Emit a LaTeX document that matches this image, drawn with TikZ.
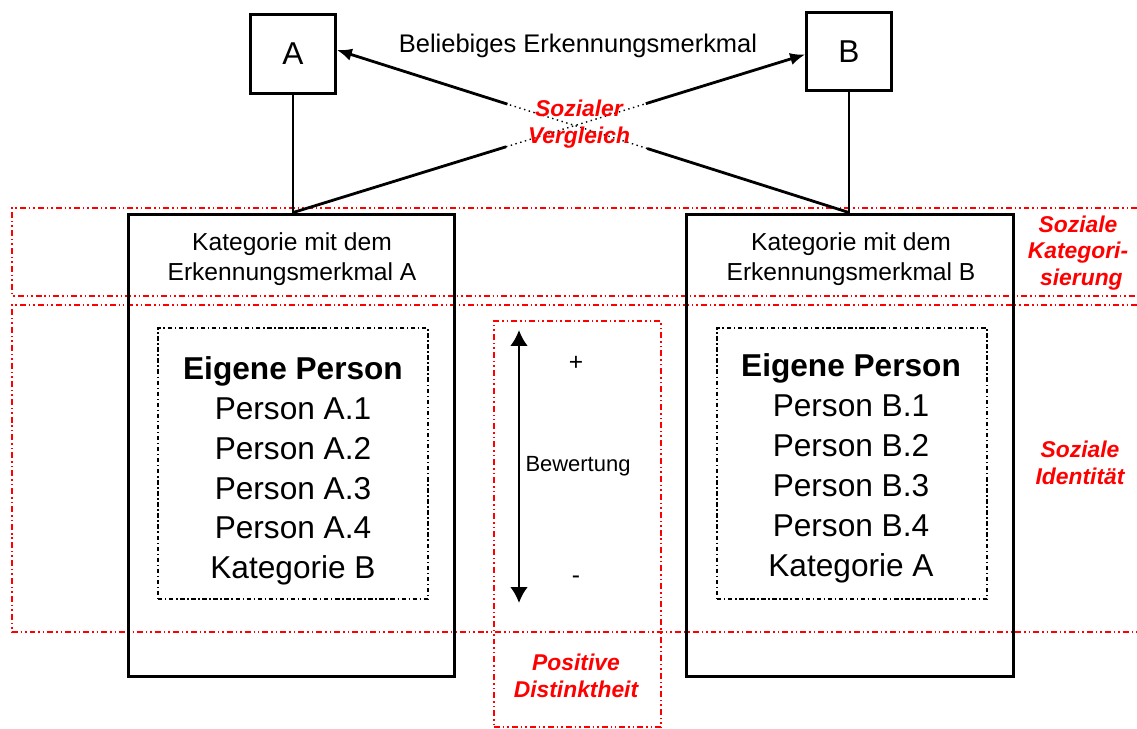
\documentclass[tikz,border=0pt]{standalone}
\usepackage{fontspec}
\setmainfont{Liberation Sans}
\usetikzlibrary{arrows.meta,calc}
\begin{document}
\begin{tikzpicture}[x=0.02cm,y=-0.02cm,
  smallbox/.style={draw,line width=1.6pt,minimum width=1.7cm,minimum height=1.57cm,inner sep=0pt,font=\fontsize{18}{20}\selectfont},
  catbox/.style={draw,line width=1.7pt,minimum width=6.54cm,minimum height=9.26cm,inner sep=0pt},
  innerbox/.style={draw,line width=0.8pt,dash pattern=on 2.5pt off 1.5pt on 0.8pt off 1.5pt,minimum width=5.4cm,minimum height=5.42cm,inner sep=0pt},
  redline/.style={draw=red,line width=1.1pt,dash pattern=on 3.4pt off 1.7pt on 0.85pt off 1.7pt on 0.85pt off 1.7pt},
  redlabel/.style={text=red,font=\fontsize{13}{15.3}\selectfont\bfseries\itshape,align=center,inner sep=0pt},
  cattext/.style={font=\fontsize{14}{17}\selectfont,align=center,inner sep=0pt},
  persontext/.style={font=\fontsize{18}{22.7}\selectfont,align=center,inner sep=0pt},
  thickline/.style={line width=1.6pt},
  tip/.style={-{Latex[length=0.3cm,width=0.25cm]}}
]
\useasboundingbox (0,0) rectangle (1137,729);

% red bands
\draw[redline] (1137,208) -- (12,208) -- (12,296) -- (1137,296);
\draw[redline] (1137,305) -- (12,305) -- (12,632) -- (1137,632);
\node[redline,minimum width=3.34cm,minimum height=8.12cm,inner sep=0pt] (mid) at (577.5,524) {};

% small boxes
\node[smallbox] (A) at (293,54) {A};
\node[smallbox] (B) at (849,51.5) {B};
\node[font=\fontsize{14.5}{17}\selectfont,inner sep=0pt] (merk) at (578,46) {Beliebiges Erkennungsmerkmal};

% category boxes
\node[catbox] (LA) at (291.5,445.5) {};
\node[catbox] (LB) at (850,445.5) {};
\node[cattext] (ka) at (292,259) {Kategorie mit dem\\Erkennungsmerkmal A};
\node[cattext] (kb) at (851,259) {Kategorie mit dem\\Erkennungsmerkmal B};

\node[innerbox] (IA) at (293,463.5) {};
\node[innerbox] (IB) at (852,463.5) {};
\node[persontext] (pa) at (293,471) {\textbf{Eigene Person}\\Person A.1\\Person A.2\\Person A.3\\Person A.4\\Kategorie B};
\node[persontext] (pb) at (851,468.5) {\textbf{Eigene Person}\\Person B.1\\Person B.2\\Person B.3\\Person B.4\\Kategorie A};

% vertical connectors
\coordinate (la) at (A.south |- LA.north);
\coordinate (lb) at (B.south |- LB.north);
\draw[line width=0.6pt] (A.south) -- (la);
\draw[line width=0.6pt] (B.south) -- (lb);

% crossing arrows
\coordinate (bt) at ($(B.west)+(0,3)$);
\coordinate (at) at ($(A.east)+(0,-4)$);
\path (la) -- (bt) coordinate[pos=0.416] (p1) coordinate[pos=0.689] (p2);
\draw[thickline] (la) -- (p1);
\draw[line width=0.8pt,dotted] (p1) -- (p2);
\draw[thickline,tip] (p2) -- (bt);
\path (lb) -- (at) coordinate[pos=0.394] (q1) coordinate[pos=0.667] (q2);
\draw[thickline] (lb) -- (q1);
\draw[line width=0.8pt,dotted] (q1) -- (q2);
\draw[thickline,tip] (q2) -- (at);
\node[redlabel] (sv) at (579,124) {Sozialer\\Vergleich};

% evaluation arrow
\coordinate (vt) at (519,330);
\coordinate (vb) at (519,603);
\draw[line width=1.7pt,{Latex[length=0.32cm,width=0.36cm]}-{Latex[length=0.32cm,width=0.36cm]}] (vt) -- (vb);
\node[font=\fontsize{14}{16}\selectfont,inner sep=0pt] (plus) at (576,363) {+};
\node[font=\fontsize{14}{16}\selectfont,inner sep=0pt] (minus) at (576,580) {-};
\node[font=\fontsize{12.5}{15}\selectfont,inner sep=0pt] (bew) at (578,466) {Bewertung};
\node[redlabel] (pd) at (576,676) {Positive\\Distinktheit};

% right labels
\node[redlabel] (sk) at (1078,253) {Soziale\\Kategori-\\\hspace*{0.3em}sierung};
\node[redlabel] (si) at (1080,463) {Soziale\\Identität};
\end{tikzpicture}
\end{document}
